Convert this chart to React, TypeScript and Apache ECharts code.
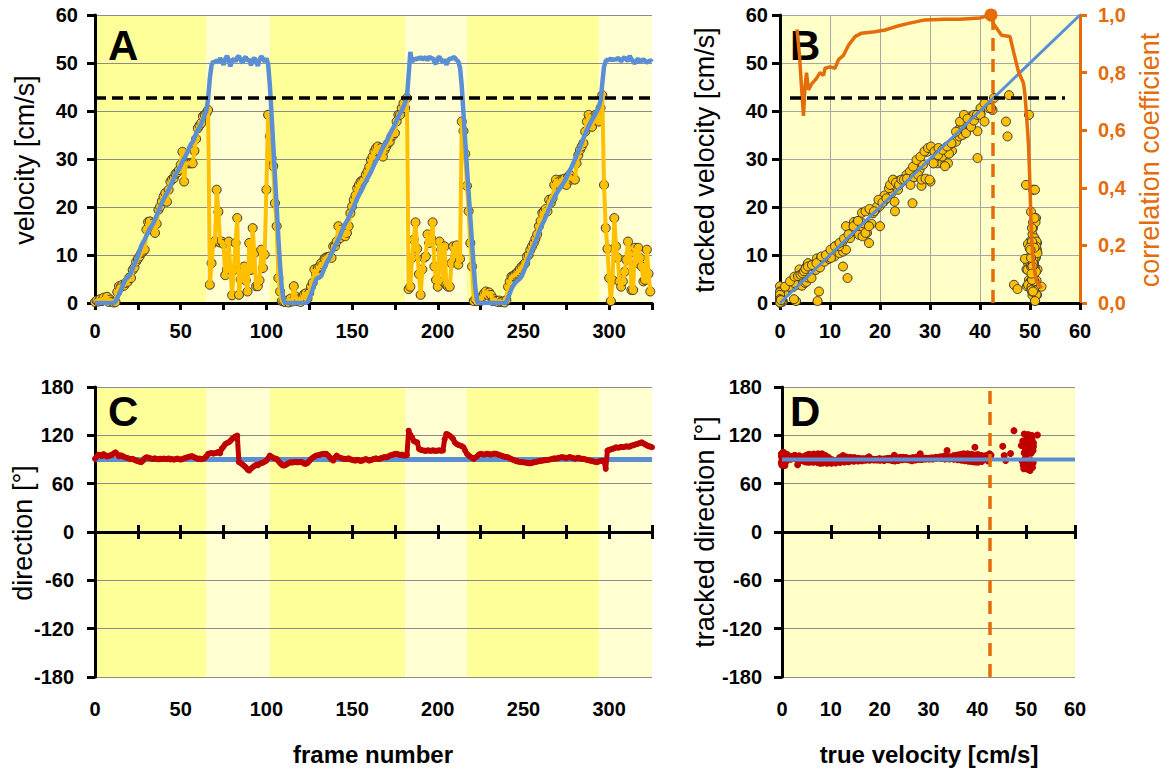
import { useEffect, useRef } from "react";
import * as echarts from "echarts";

// ---------- constants ----------
const FRAME_MAX = 325;
const VEL_MAX = 60;
const VEL_THRESHOLD = 42.7; // black dashed line
const VEL_CUTOFF = 42.5; // orange dashed line (true velocity)
const TRUE_DIRECTION = 90;
const THRESH_SPAN_B = [2, 57];
const identityLine = [0, 60];
const phaseBounds = [0, 65, 102, 181, 217, 294, 325];

// ---------- data (one value per frame) ----------
const trueVelocity = [
  0, 0, 0, 0, 0, 0, 0, 0, 0, 0,
  0, 0, 0.3, 1.0, 1.8, 2.6, 3.5, 4.4, 5.0, 5.3,
  5.6, 6.3, 7.2, 8.0, 8.9, 9.8, 10.9, 11.9, 12.6, 13.2,
  14.0, 14.8, 15.5, 16.0, 16.6, 17.4, 18.3, 19.1, 19.9, 20.8,
  21.6, 22.3, 22.9, 23.6, 24.4, 25.2, 26.0, 26.7, 27.3, 27.9,
  28.6, 29.4, 30.1, 30.7, 31.5, 32.4, 33.1, 33.6, 34.4, 35.3,
  36.0, 36.6, 37.4, 38.3, 39.2, 40.1, 42.5, 46.8, 49.6, 50.3,
  50.1, 50.6, 50.2, 51.0, 50.4, 49.6, 50.8, 51.5, 50.7, 49.3,
  50.5, 50.9, 50.3, 51.2, 51.4, 50.6, 50.0, 50.9, 51.3, 50.4,
  50.8, 49.5, 50.6, 51.1, 50.2, 49.4, 50.7, 51.4, 50.9, 50.3,
  51.0, 49.8, 45.5, 39.5, 33.0, 26.5, 20.0, 13.5, 7.8, 3.2,
  0.6, 0, 0, 0, 0, 0, 0, 0, 0, 0,
  0, 0, 0, 0, 0.2, 0.9, 1.8, 2.8, 3.9, 4.9,
  5.2, 5.3, 5.6, 6.5, 7.4, 8.2, 8.9, 9.5, 10.2, 11.0,
  11.8, 12.5, 13.2, 14.0, 14.9, 15.8, 16.5, 17.1, 17.8, 18.6,
  19.4, 20.1, 20.9, 21.8, 22.5, 23.1, 23.8, 24.6, 25.3, 26.0,
  26.6, 27.3, 28.1, 28.9, 29.6, 30.2, 30.9, 31.7, 32.4, 33.0,
  33.6, 34.4, 35.2, 35.9, 36.5, 37.2, 38.0, 38.8, 39.5, 40.1,
  40.9, 41.8, 42.8, 47.5, 52.3, 50.2, 51.0, 50.6, 51.1, 50.8,
  51.3, 50.7, 51.0, 51.2, 50.5, 51.4, 50.9, 51.1, 50.2, 49.8,
  51.0, 51.3, 50.6, 50.1, 50.8, 49.6, 50.4, 51.0, 50.8, 51.2,
  51.1, 50.6, 50.3, 49.0, 45.2, 39.5, 33.8, 28.3, 23.0, 17.8,
  12.6, 7.5, 2.8, 0.4, 0, 0, 0, 0, 0, 0,
  0, 0, 0, 0, 0, 0, 0, 0, 0, 0,
  0.2, 1.0, 2.0, 2.9, 3.6, 4.1, 4.5, 4.8, 5.1, 5.6,
  6.4, 7.3, 8.3, 9.2, 10.1, 11.0, 11.9, 12.8, 13.7, 14.7,
  15.6, 16.4, 17.1, 17.9, 18.8, 19.7, 20.5, 21.3, 22.0, 22.6,
  23.2, 23.8, 24.3, 24.8, 25.4, 26.1, 26.8, 27.6, 28.3, 29.1,
  29.9, 30.7, 31.6, 32.5, 33.4, 34.3, 35.2, 36.0, 36.8, 37.5,
  38.2, 38.8, 39.4, 40.1, 40.9, 42.2, 45.8, 49.2, 50.4, 50.7,
  50.6, 51.0, 50.5, 50.9, 50.6, 51.1, 50.8, 50.3, 50.9, 51.2,
  50.7, 50.4, 51.5, 50.8, 50.3, 49.9, 50.6, 50.9, 50.2, 50.5,
  50.8, 50.4, 50.1, 50.3, 50.6, 50.2,
];

const trackedVelocity = [
  0.2, 0.5, 0.3, 0.8, 0.4, 1.1, 0.6, 1.3, 0.2, 0.7,
  0.3, 0.1, 0.2, 2.3, 3.5, 3.3, 3.8, 3.6, 4.2, 4.4,
  5.3, 5.2, 6.9, 7.4, 8.6, 9.2, 9.7, 10.4, 10.7, 11.1,
  15.3, 16.9, 17.0, 15.8, 16.6, 14.6, 16.5, 19.4, 20.1, 21.2,
  22.2, 22.9, 21.1, 23.6, 25.3, 25.8, 26.0, 26.9, 27.2, 27.7,
  28.8, 31.5, 25.3, 29.1, 29.1, 29.1, 29.1, 29.1, 31.7, 34.2,
  36.4, 37.0, 37.5, 38.9, 39.2, 39.5, 40.2, 3.8, 8.3, 12.5,
  12.9, 23.6, 19.0, 12.6, 12.8, 12.3, 5.8, 7.0, 12.8, 7.0,
  1.6, 6.9, 12.5, 17.7, 1.7, 4.9, 6.9, 7.6, 4.7, 2.4,
  12.5, 6.9, 15.6, 10.4, 3.5, 3.5, 4.7, 11.1, 7.3, 10.1,
  23.6, 39.2, 34.7, 30.2, 28.5, 20.8, 16.0, 5.2, 2.4, 0.4,
  0.3, 0.2, 0.5, 0.1, 0.9, 0.3, 3.5, 1.4, 0.4, 0.8,
  0.2, 1.2, 1.8, 2.0, 0.9, 2.1, 3.4, 4.2, 7.0, 5.9,
  7.3, 7.6, 8.3, 8.0, 9.3, 9.5, 9.6, 9.7, 9.4, 11.8,
  11.8, 12.8, 16.0, 13.5, 15.3, 14.2, 13.9, 14.6, 16.0, 18.7,
  20.1, 21.5, 22.4, 23.9, 24.6, 25.3, 25.5, 25.7, 26.7, 27.4,
  28.4, 29.8, 30.5, 31.6, 32.3, 32.6, 31.6, 32.3, 30.5, 31.9,
  32.6, 33.3, 33.6, 34.7, 35.0, 35.4, 37.8, 39.2, 39.2, 40.6,
  41.6, 40.6, 42.7, 2.9, 3.4, 9.4, 13.2, 16.8, 11.3, 6.0,
  1.7, 7.0, 9.4, 9.7, 14.3, 12.5, 13.5, 16.8, 7.6, 4.8,
  3.4, 12.8, 11.1, 4.5, 11.8, 3.8, 3.4, 3.4, 8.3, 11.8,
  9.4, 12.0, 8.0, 9.2, 37.8, 35.8, 31.1, 24.4, 19.1, 12.5,
  7.6, 0.4, 0.8, 0.4, 1.0, 0.4, 1.4, 2.0, 2.4, 1.7,
  2.2, 1.7, 0.4, 0.8, 0.4, 0.2, 0.5, 0.2, 0.3, 0.1,
  0.6, 3.4, 4.5, 5.5, 5.6, 5.9, 6.2, 6.6, 7.1, 7.6,
  7.9, 8.3, 9.7, 10.0, 11.1, 11.8, 12.5, 13.4, 14.3, 16.0,
  17.1, 18.8, 19.1, 19.6, 19.1, 21.5, 20.9, 21.8, 24.6, 25.7,
  25.1, 24.6, 25.7, 25.7, 25.9, 24.6, 26.2, 26.7, 25.7, 25.9,
  25.7, 29.1, 30.8, 31.9, 32.6, 33.3, 35.7, 37.8, 39.2, 38.4,
  36.7, 38.0, 39.2, 39.2, 37.8, 40.6, 43.3, 24.6, 15.6, 11.3,
  5.2, 0.4, 4.8, 17.7, 11.8, 9.4, 4.5, 3.4, 4.5, 6.5,
  9.0, 12.8, 10.4, 2.7, 2.7, 11.5, 8.3, 11.5, 9.4, 7.6,
  4.5, 4.8, 11.1, 6.1, 2.4,
];

const trackedDirection = [
  90.8, 93.5, 96.0, 95.5, 94.2, 96.8, 95.0, 93.8, 94.5, 95.2, 96.0,
  97.5, 99.0, 96.5, 94.0, 95.2, 94.5, 93.0, 92.4, 91.8, 91.0,
  90.5, 90.8, 89.6, 88.7, 87.9, 87.2, 86.6, 88.5, 91.5, 92.8,
  92.3, 91.6, 91.0, 90.8, 91.4, 90.6, 90.2, 91.0, 90.5, 91.2,
  90.8, 90.4, 91.3, 90.0, 90.6, 89.8, 90.5, 91.1, 90.3, 89.9,
  90.6, 91.4, 92.2, 92.8, 93.5, 94.0, 94.0, 92.6, 91.7, 90.8,
  91.2, 90.4, 90.9, 91.6, 94.0, 97.0, 97.5, 98.0, 97.2, 97.8,
  98.3, 99.5, 97.7, 103.5, 106.0, 109.0, 110.5, 111.3, 113.0, 115.5,
  117.2, 118.6, 119.6, 86.6, 85.5, 84.0, 82.1, 80.2, 77.5, 76.3,
  78.5, 80.4, 82.0, 83.3, 82.8, 84.5, 85.6, 86.1, 87.3, 88.7,
  91.5, 94.9, 93.4, 92.0, 91.2, 90.8, 88.0, 85.5, 83.4, 82.5,
  83.0, 84.2, 85.6, 86.6, 86.2, 86.6, 87.0, 86.5, 86.8, 87.0,
  86.4, 85.0, 84.5, 85.8, 88.0, 90.5, 92.2, 93.5, 94.9, 95.3,
  95.8, 96.5, 96.8, 97.0, 97.0, 95.0, 92.8, 90.0, 88.7, 92.5,
  94.9, 93.0, 92.2, 91.5, 91.0, 90.6, 90.8, 91.4, 90.2, 89.5,
  89.0, 88.7, 89.6, 88.9, 88.3, 88.7, 89.8, 90.5, 89.7, 88.6,
  89.3, 90.2, 90.8, 91.5, 90.6, 90.8, 91.7, 92.4, 93.0, 92.5,
  93.5, 94.8, 95.5, 96.2, 97.0, 97.0, 96.4, 95.6, 96.2, 95.0,
  94.9, 95.3, 125.8, 120.5, 117.6, 113.0, 111.8, 111.3, 103.2, 102.0,
  101.5, 101.1, 100.6, 101.4, 101.1, 100.8, 101.3, 101.0, 100.7, 101.1,
  101.4, 100.9, 101.1, 115.0, 121.7, 121.0, 119.5, 117.6, 115.2, 111.0,
  109.3, 108.0, 107.4, 106.5, 105.2, 101.0, 97.0, 95.2, 93.4, 92.0,
  90.8, 92.5, 94.0, 96.2, 97.0, 96.5, 96.0, 96.8, 97.2, 96.6,
  96.0, 96.8, 97.4, 97.0, 96.3, 95.5, 94.8, 94.0, 93.5, 93.0,
  92.8, 91.5, 90.5, 89.6, 88.7, 88.0, 87.4, 87.0, 86.6, 86.6,
  86.2, 85.8, 85.5, 85.3, 85.8, 86.5, 86.9, 87.4, 87.8, 88.3,
  88.6, 89.0, 89.2, 89.4, 89.8, 90.3, 90.8, 91.4, 91.0, 91.7,
  92.2, 92.8, 92.8, 92.3, 91.6, 92.5, 93.0, 92.4, 91.8, 91.0,
  91.5, 92.0, 91.4, 90.8, 90.8, 90.2, 89.6, 89.2, 88.5, 88.0,
  87.6, 87.0, 86.6, 87.5, 88.2, 88.7, 87.9, 78.4, 101.1, 102.0,
  102.6, 103.3, 104.0, 105.2, 104.6, 105.0, 105.6, 105.3, 105.8, 106.4,
  106.0, 106.0, 107.2, 107.6, 108.4, 109.0, 109.8, 110.5, 111.3, 110.0,
  108.8, 107.5, 106.6, 106.0, 105.2,
];

// correlation coefficient as a function of true velocity (panel B, right axis)
const corrVelocity = [
  3.4, 3.9, 4.3, 4.7, 5.0, 5.3, 5.7, 6.3, 7.3, 8.0, 8.7, 9.0, 10.0, 11.0, 11.7,
  12.7, 13.7, 15.0, 16.3, 19.0, 21.0, 23.0, 25.7, 29.0, 33.0, 36.0, 40.0, 42.2,
  42.7, 44.3, 46.0, 46.7, 47.7, 48.7, 49.0, 49.3, 49.7, 49.9, 50.1, 50.3, 50.7,
  51.3, 52.3,
];
const corrCoefficient = [
  0.95, 0.86, 0.75, 0.65, 0.75, 0.8, 0.74, 0.76, 0.78, 0.8, 0.79, 0.815, 0.82,
  0.815, 0.845, 0.86, 0.895, 0.925, 0.937, 0.942, 0.948, 0.959, 0.971, 0.983,
  0.985, 0.985, 0.99, 1.0, 0.97, 0.93, 0.925, 0.873, 0.803, 0.763, 0.722, 0.653,
  0.549, 0.456, 0.341, 0.226, 0.133, 0.075, 0.052,
];

// ---------- styling ----------
const FONT = '"Liberation Sans", Arial, Helvetica, sans-serif';
const BLUE = "#5A8FD6";
const GOLD = "#FFC000";
const RED = "#C00000";
const ORANGE = "#E46C0A";
const DARK_BAND = "#FFFF99";
const LIGHT_BAND = "#FFFFD2";
const PANEL_BG = "#FFFFC8";
const GRID_GRAY = "#8C8C8C";

const tickLabel = { fontFamily: FONT, fontWeight: "bold" as const, fontSize: 20, color: "#000" };
const blackLine = { color: "#000", width: 3 };
const every50 = (v: number) => (v % 50 === 0 ? String(v) : "");

const rectA = { left: 95, top: 15, width: 557, height: 288 };
const rectB = { left: 780, top: 15, width: 300, height: 288 };
const rectC = { left: 95, top: 387, width: 557, height: 290 };
const rectD = { left: 782, top: 387, width: 293, height: 290 };

function buildOption() {
  const frames = trueVelocity.map((_, i) => i);
  const truePairs = frames.map((f) => [f, trueVelocity[f]]);
  const trackedPairs = trackedVelocity.map((v, i) => [i, v]);
  const velPairs = trackedVelocity.map((v, i) => [trueVelocity[i], v]);
  const dirPairs = trackedDirection.map((d, i) => [i, d]);
  const dirVsVel = trackedDirection.map((d, i) => [trueVelocity[i], d]);
  const corrPairs = corrVelocity.map((x, i) => [x, corrCoefficient[i]]);
  let peak = 0;
  corrCoefficient.forEach((r, i) => {
    if (r > corrCoefficient[peak]) peak = i;
  });
  const bandData = phaseBounds.slice(0, -1).map((s, i) => [s, phaseBounds[i + 1], i % 2]);

  const bands = (xi: number, yi: number) => ({
    type: "custom",
    xAxisIndex: xi,
    yAxisIndex: yi,
    z: -1,
    silent: true,
    data: bandData,
    renderItem: (params: any, api: any) => {
      const cs = params.coordSys;
      const a = api.coord([api.value(0), 0]);
      const b = api.coord([api.value(1), 0]);
      return {
        type: "rect",
        shape: { x: a[0], y: cs.y, width: b[0] - a[0], height: cs.height },
        style: { fill: api.value(2) ? LIGHT_BAND : DARK_BAND },
      };
    },
  });

  const frameAxis = (gridIndex: number, extra: any) => ({
    type: "value",
    gridIndex,
    min: 0,
    max: FRAME_MAX,
    interval: 25,
    splitLine: { show: false },
    ...extra,
  });
  const velAxis = (gridIndex: number, extra: any) => ({
    type: "value",
    gridIndex,
    min: 0,
    max: VEL_MAX,
    interval: 10,
    ...extra,
  });
  const dirAxis = (gridIndex: number, extra: any) => ({
    type: "value",
    gridIndex,
    min: -180,
    max: 180,
    interval: 60,
    ...extra,
  });

  const zeroLine = {
    axisLine: { show: true, onZero: true, lineStyle: blackLine },
    axisTick: { show: true, inside: false, length: 7, lineStyle: blackLine },
    axisLabel: { show: false },
    splitLine: { show: false },
  };
  const zeroTicksUp = {
    axisLine: { show: false, onZero: true },
    axisTick: { show: true, inside: true, length: 7, lineStyle: blackLine },
    axisLabel: { show: false },
    splitLine: { show: false },
  };
  const hiddenY = { show: false, splitLine: { show: false } };

  const dashedBlack = { color: "#000", width: 3.5, type: [11, 6] };
  const dashedOrange = { color: ORANGE, width: 3.5, type: [13, 8] };

  const titleText = (text: string, x: number, y: number, opts: any = {}) => ({
    type: "text",
    x,
    y,
    rotation: opts.rotate ? Math.PI / 2 : 0,
    silent: true,
    style: {
      text,
      fill: opts.color || "#000",
      fontFamily: FONT,
      fontSize: opts.size || 27,
      fontWeight: opts.bold ? "bold" : "normal",
      align: opts.align || "center",
      textAlign: opts.align || "center",
      verticalAlign: "middle",
      textVerticalAlign: "middle",
    },
  });

  return {
    animation: false,
    textStyle: { fontFamily: FONT },
    grid: [
      { ...rectA, outerBoundsMode: "none" },
      { ...rectB, show: true, backgroundColor: PANEL_BG, borderWidth: 0, outerBoundsMode: "none" },
      { ...rectC, outerBoundsMode: "none" },
      { ...rectC, outerBoundsMode: "none" },
      { ...rectC, outerBoundsMode: "none" },
      { ...rectD, show: true, backgroundColor: PANEL_BG, borderWidth: 0, outerBoundsMode: "none" },
      { ...rectD, outerBoundsMode: "none" },
      { ...rectD, outerBoundsMode: "none" },
    ],
    xAxis: [
      frameAxis(0, {
        axisLine: { show: true, onZero: false, lineStyle: blackLine },
        axisTick: { show: true, length: 7, lineStyle: blackLine },
        axisLabel: { ...tickLabel, margin: 18, formatter: every50 },
      }),
      velAxis(1, {
        axisLine: { show: true, onZero: false, lineStyle: blackLine },
        axisTick: { show: true, length: 7, lineStyle: blackLine },
        axisLabel: { ...tickLabel, margin: 18 },
        splitLine: { show: true, lineStyle: { color: "#A6A6A6", width: 1 } },
      }),
      frameAxis(2, {
        axisLine: { show: false, onZero: false },
        axisTick: { show: false },
        axisLabel: { ...tickLabel, margin: 22, formatter: every50 },
      }),
      frameAxis(3, zeroLine),
      frameAxis(4, zeroTicksUp),
      velAxis(5, {
        axisLine: { show: false, onZero: false },
        axisTick: { show: false },
        axisLabel: { ...tickLabel, margin: 22 },
        splitLine: { show: false },
      }),
      velAxis(6, zeroLine),
      velAxis(7, zeroTicksUp),
    ],
    yAxis: [
      velAxis(0, {
        axisLine: { show: true, onZero: false, lineStyle: blackLine },
        axisTick: { show: true, length: 8, lineStyle: blackLine },
        axisLabel: { ...tickLabel, margin: 17 },
        splitLine: { show: true, lineStyle: { color: GRID_GRAY, width: 1 } },
      }),
      velAxis(1, {
        axisLine: { show: true, onZero: false, lineStyle: blackLine },
        axisTick: { show: true, length: 8, lineStyle: blackLine },
        axisLabel: { ...tickLabel, margin: 12 },
        splitLine: { show: true, lineStyle: { color: "#A6A6A6", width: 1 } },
      }),
      {
        type: "value",
        gridIndex: 1,
        position: "right",
        min: 0,
        max: 1,
        interval: 0.2,
        axisLine: { show: true, onZero: false, lineStyle: { color: ORANGE, width: 3 } },
        axisTick: { show: true, length: 7, lineStyle: { color: ORANGE, width: 3 } },
        axisLabel: {
          ...tickLabel,
          color: ORANGE,
          margin: 18,
          formatter: (v: number) => v.toFixed(1).replace(".", ","),
        },
        splitLine: { show: false },
      },
      dirAxis(2, {
        axisLine: { show: true, onZero: false, lineStyle: blackLine },
        axisTick: { show: true, length: 8, lineStyle: blackLine },
        axisLabel: { ...tickLabel, margin: 21 },
        splitLine: { show: true, lineStyle: { color: GRID_GRAY, width: 1 } },
      }),
      dirAxis(3, hiddenY),
      dirAxis(4, hiddenY),
      dirAxis(5, {
        axisLine: { show: true, onZero: false, lineStyle: blackLine },
        axisTick: { show: true, length: 8, lineStyle: blackLine },
        axisLabel: { ...tickLabel, margin: 20 },
        splitLine: { show: true, lineStyle: { color: GRID_GRAY, width: 1 } },
      }),
      dirAxis(6, hiddenY),
      dirAxis(7, hiddenY),
    ],
    series: [
      // ----- A -----
      bands(0, 0),
      {
        type: "line",
        name: "tracked velocity",
        xAxisIndex: 0,
        yAxisIndex: 0,
        data: trackedPairs,
        showSymbol: false,
        lineStyle: { color: GOLD, width: 4 },
        itemStyle: { color: GOLD },
      },
      {
        type: "line",
        name: "true velocity",
        xAxisIndex: 0,
        yAxisIndex: 0,
        data: truePairs,
        showSymbol: false,
        lineStyle: { color: BLUE, width: 4.5 },
        itemStyle: { color: BLUE },
      },
      {
        type: "scatter",
        name: "tracked velocity points",
        xAxisIndex: 0,
        yAxisIndex: 0,
        data: trackedPairs,
        symbolSize: 9,
        itemStyle: { color: GOLD, borderColor: "#3A3A3A", borderWidth: 1, opacity: 1 },
        markLine: {
          silent: true,
          symbol: "none",
          label: { show: false },
          lineStyle: dashedBlack,
          data: [{ yAxis: VEL_THRESHOLD }],
        },
      },
      // ----- B -----
      {
        type: "line",
        name: "identity",
        xAxisIndex: 1,
        yAxisIndex: 1,
        data: identityLine.map((v) => [v, v]),
        showSymbol: false,
        lineStyle: { color: BLUE, width: 3 },
      },
      {
        type: "scatter",
        name: "tracked vs true",
        xAxisIndex: 1,
        yAxisIndex: 1,
        data: velPairs,
        symbolSize: 9,
        itemStyle: { color: GOLD, borderColor: "#3A3A3A", borderWidth: 1, opacity: 1 },
        markLine: {
          silent: true,
          symbol: "none",
          label: { show: false },
          lineStyle: dashedBlack,
          data: [[{ coord: [THRESH_SPAN_B[0], VEL_THRESHOLD] }, { coord: [THRESH_SPAN_B[1], VEL_THRESHOLD] }]],
        },
      },
      {
        type: "line",
        name: "correlation coefficient",
        xAxisIndex: 1,
        yAxisIndex: 2,
        data: corrPairs,
        showSymbol: false,
        lineStyle: { color: ORANGE, width: 3.5 },
        itemStyle: { color: ORANGE },
        markLine: {
          silent: true,
          symbol: "none",
          label: { show: false },
          lineStyle: dashedOrange,
          data: [{ xAxis: VEL_CUTOFF }],
        },
      },
      {
        type: "scatter",
        name: "peak",
        xAxisIndex: 1,
        yAxisIndex: 2,
        data: [corrPairs[peak]],
        symbolSize: 13,
        itemStyle: { color: ORANGE, opacity: 1 },
      },
      // ----- C -----
      bands(2, 3),
      {
        type: "line",
        name: "true direction",
        xAxisIndex: 2,
        yAxisIndex: 3,
        data: [
          [0, TRUE_DIRECTION],
          [FRAME_MAX, TRUE_DIRECTION],
        ],
        showSymbol: false,
        lineStyle: { color: BLUE, width: 5 },
      },
      {
        type: "line",
        name: "direction",
        xAxisIndex: 2,
        yAxisIndex: 3,
        data: dirPairs,
        showSymbol: true,
        showAllSymbol: true,
        symbol: "circle",
        symbolSize: 6,
        lineStyle: { color: RED, width: 5 },
        itemStyle: { color: RED },
      },
      // ----- D -----
      {
        type: "line",
        name: "true direction D",
        xAxisIndex: 5,
        yAxisIndex: 6,
        data: [
          [0, TRUE_DIRECTION],
          [VEL_MAX, TRUE_DIRECTION],
        ],
        showSymbol: false,
        lineStyle: { color: BLUE, width: 4 },
      },
      {
        type: "scatter",
        name: "tracked direction",
        xAxisIndex: 5,
        yAxisIndex: 6,
        data: dirVsVel,
        symbolSize: 7,
        itemStyle: { color: RED, opacity: 1 },
        markLine: {
          silent: true,
          symbol: "none",
          label: { show: false },
          lineStyle: dashedOrange,
          data: [{ xAxis: VEL_CUTOFF }],
        },
      },
    ],
    graphic: [
      titleText("A", 108, 45, { size: 42, bold: true, align: "left" }),
      titleText("B", 790, 45, { size: 42, bold: true, align: "left" }),
      titleText("C", 108, 411, { size: 42, bold: true, align: "left" }),
      titleText("D", 790, 411, { size: 42, bold: true, align: "left" }),
      titleText("velocity [cm/s]", 25, 160, { rotate: true }),
      titleText("tracked velocity [cm/s]", 705, 160, { rotate: true }),
      titleText("correlation coefficient", 1150, 160, { rotate: true, color: ORANGE }),
      titleText("direction [°]", 23, 533, { rotate: true }),
      titleText("tracked direction [°]", 705, 532, { rotate: true }),
      titleText("frame number", 373, 754, { size: 24, bold: true }),
      titleText("true velocity [cm/s]", 929, 754, { size: 24, bold: true }),
    ],
  };
}

export default function App() {
  const ref = useRef<HTMLDivElement>(null);
  useEffect(() => {
    if (!ref.current) return;
    const chart = echarts.init(ref.current, undefined, { renderer: "svg" });
    chart.setOption(buildOption() as any);
    return () => chart.dispose();
  }, []);
  return (
    <div
      ref={ref}
      style={{ position: "fixed", left: 0, top: 0, width: 1169, height: 780, background: "#fff" }}
    />
  );
}
